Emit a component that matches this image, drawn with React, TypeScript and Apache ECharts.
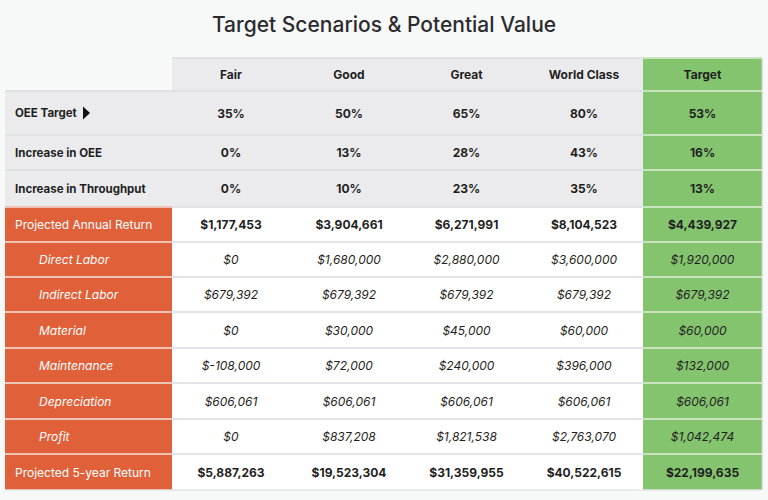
import React, { useEffect, useRef } from "react";
import * as echarts from "echarts";

const columns = ["Fair", "Good", "Great", "World Class", "Target"];
const rowLabels = [
  "OEE Target",
  "Increase in OEE",
  "Increase in Throughput",
  "Projected Annual Return",
  "Direct Labor",
  "Indirect Labor",
  "Material",
  "Maintenance",
  "Depreciation",
  "Profit",
  "Projected 5-year Return",
];
const oeeTarget = [35, 50, 65, 80, 53];
const increaseInOEE = [0, 13, 28, 43, 16];
const increaseInThroughput = [0, 10, 23, 35, 13];
const projectedAnnualReturn = [1177453, 3904661, 6271991, 8104523, 4439927];
const directLabor = [0, 1680000, 2880000, 3600000, 1920000];
const indirectLabor = [679392, 679392, 679392, 679392, 679392];
const material = [0, 30000, 45000, 60000, 60000];
const maintenance = [-108000, 72000, 240000, 396000, 132000];
const depreciation = [606061, 606061, 606061, 606061, 606061];
const profit = [0, 837208, 1821538, 2763070, 1042474];
const projected5YearReturn = [5887263, 19523304, 31359955, 40522615, 22199635];

const rowValues = [
  oeeTarget,
  increaseInOEE,
  increaseInThroughput,
  projectedAnnualReturn,
  directLabor,
  indirectLabor,
  material,
  maintenance,
  depreciation,
  profit,
  projected5YearReturn,
];
const rowKinds = ["pct", "pct", "pct", "total", "sub", "sub", "sub", "sub", "sub", "sub", "total"];

// layout (axis units)
const colBounds = [0, 167, 285, 403, 520, 638, 757];
const rowBounds = [0, 33, 77, 112, 149, 184, 219, 254, 290, 325, 361, 396, 432];

const GRAY = "#ebebee";
const ORANGE = "#e0603a";
const GREEN = "#85c46f";
const TEXT = "#1f1f22";
const FONT = "Inter, 'Noto Sans', sans-serif";

const fmtMoney = (n: number) => "$" + n.toLocaleString("en-US");

export default function App() {
  const ref = useRef<HTMLDivElement>(null);
  useEffect(() => {
    if (!ref.current) return;
    const chart = echarts.init(ref.current, undefined, { renderer: "svg" });

    const data: any[] = [];
    columns.forEach((c, ci) => data.push({ value: [ci + 1, 0], kind: "header", text: c }));
    rowLabels.forEach((label, ri) => {
      const kind = rowKinds[ri];
      data.push({ value: [0, ri + 1], kind: "label-" + kind, text: label });
      rowValues[ri].forEach((v, ci) => {
        const text = kind === "pct" ? v + "%" : fmtMoney(v);
        data.push({ value: [ci + 1, ri + 1], kind: "val-" + kind, text });
      });
    });

    const renderItem = (params: any, api: any) => {
      const col = api.value(0);
      const row = api.value(1);
      const item = data[params.dataIndex];
      const p0 = api.coord([colBounds[col], rowBounds[row]]);
      const p1 = api.coord([colBounds[col + 1], rowBounds[row + 1]]);
      const x = p0[0];
      const y = Math.min(p0[1], p1[1]);
      const w = p1[0] - p0[0];
      const h = Math.abs(p1[1] - p0[1]);
      const kind: string = item.kind;
      const isTarget = col === 5;
      let fill = "#ffffff";
      let lineColor = "#e3e4e7";
      if (isTarget) {
        fill = GREEN;
        lineColor = "#c9e3bd";
      } else if (kind === "header" || kind.endsWith("pct")) {
        fill = GRAY;
        lineColor = "#e0e1e4";
      } else if (kind.startsWith("label")) {
        fill = ORANGE;
        lineColor = "#efc3b3";
      }

      const children: any[] = [
        {
          type: "rect",
          shape: { x, y, width: w, height: h },
          style: { fill },
        },
        {
          type: "line",
          shape: { x1: x, y1: y, x2: x + w, y2: y },
          style: { stroke: lineColor, lineWidth: 2 },
        },
      ];
      if (row === rowBounds.length - 2) {
        children.push({
          type: "line",
          shape: { x1: x, y1: y + h, x2: x + w, y2: y + h },
          style: { stroke: "#e3e4e7", lineWidth: 1.5 },
        });
      }
      if (isTarget) {
        children.push({
          type: "line",
          shape: { x1: x + w + 0.5, y1: y, x2: x + w + 0.5, y2: y + h },
          style: { stroke: "#e3e4e7", lineWidth: 1.5 },
        });
      }
      const cy = y + h / 2;
      if (col === 0) {
        const isSub = kind === "label-sub";
        const isOrange = kind !== "label-pct";
        children.push({
          type: "text",
          style: {
            text: item.text,
            x: x + (isSub ? 34 : 10),
            y: cy,
            align: "left",
            verticalAlign: "middle",
            fontFamily: FONT,
            fontSize: isOrange ? 12 : 11.5,
            fontWeight: isOrange ? "normal" : "bold",
            fontStyle: isSub ? "italic" : "normal",
            fill: isOrange ? "#ffffff" : TEXT,
          },
        });
        if (row === 1) {
          children.push({
            type: "polygon",
            shape: { points: [[x + 78, cy - 6.5], [x + 78, cy + 6.5], [x + 85, cy]] },
            style: { fill: "#111111" },
          });
        }
      } else {
        const isSub = kind === "val-sub";
        children.push({
          type: "text",
          style: {
            text: item.text,
            x: x + w / 2,
            y: cy,
            align: "center",
            verticalAlign: "middle",
            fontFamily: FONT,
            fontSize: 12,
            fontWeight: isSub ? "normal" : "bold",
            fontStyle: isSub ? "italic" : "normal",
            fill: TEXT,
          },
        });
      }
      return { type: "group", children };
    };

    chart.setOption({
      animation: false,
      backgroundColor: "#f7f8f8",
      title: {
        text: "Target Scenarios & Potential Value",
        left: "center",
        top: 9,
        textStyle: { fontFamily: FONT, fontSize: 21, fontWeight: 500, color: "#2b2b2e" },
      },
      grid: { left: 5, right: 6, top: 58, bottom: 10 },
      xAxis: { type: "value", min: 0, max: 757, show: false },
      yAxis: { type: "value", min: 0, max: 432, inverse: true, show: false },
      series: [
        {
          type: "custom",
          coordinateSystem: "cartesian2d",
          renderItem,
          data: data.map((d) => ({ value: d.value })),
          silent: true,
        },
      ],
    });
    return () => chart.dispose();
  }, []);
  return (
    <div
      ref={ref}
      style={{ position: "fixed", left: 0, top: 0, width: 768, height: 500 }}
    />
  );
}
